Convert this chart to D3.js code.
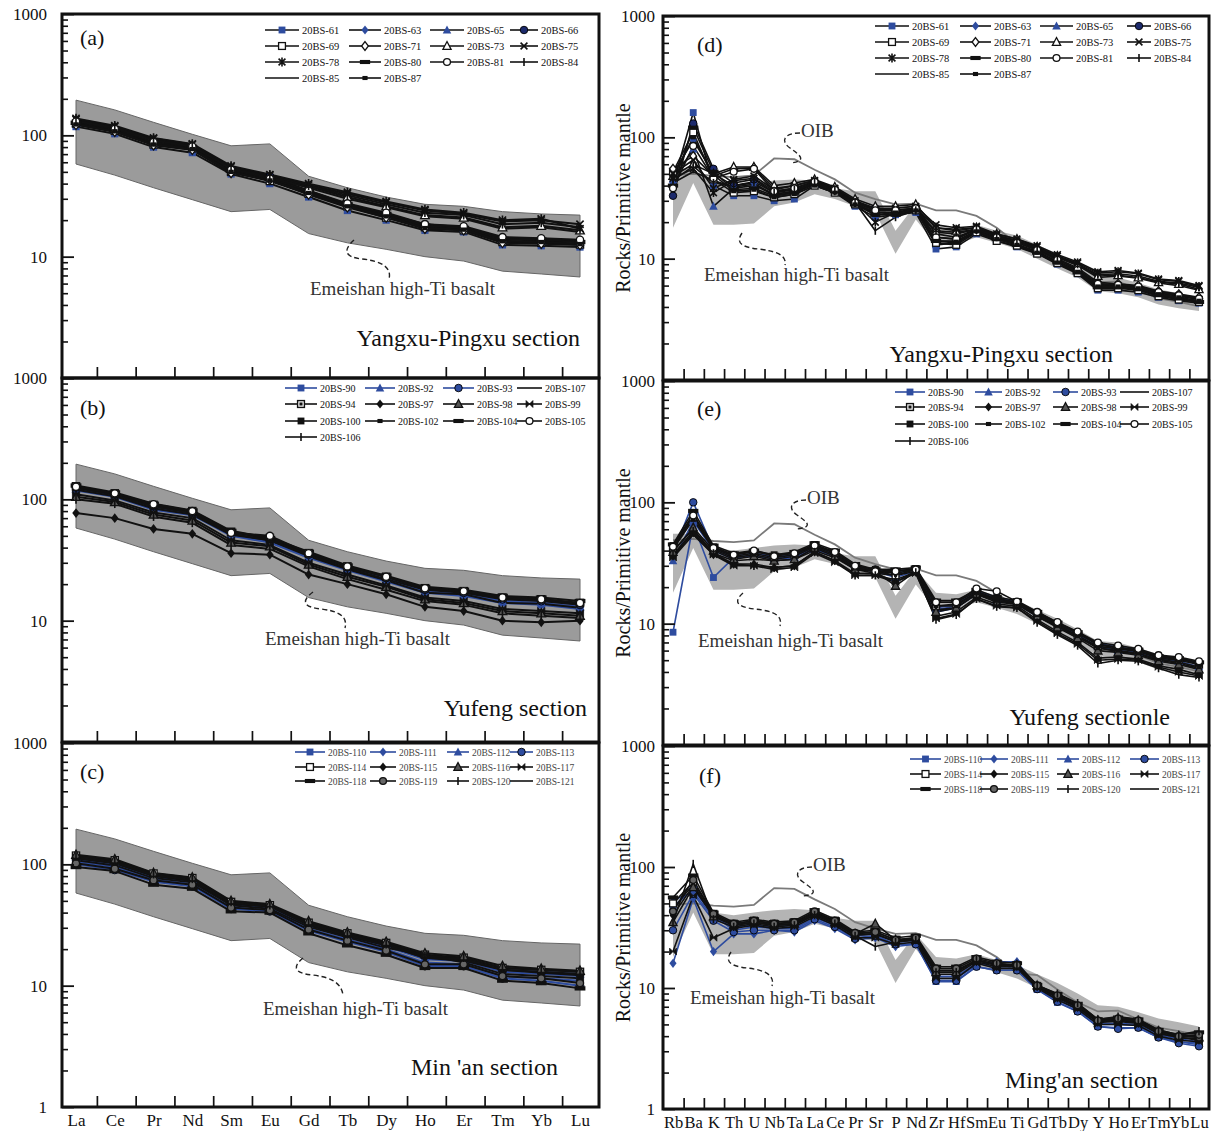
<!DOCTYPE html>
<html><head><meta charset="utf-8">
<script src="https://cdn.jsdelivr.net/npm/d3@7"></script>
<style>body{margin:0;background:#fff}svg{display:block}text{font-family:"Liberation Serif","Times New Roman",serif}</style>
</head><body><svg id="c" width="1215" height="1131"></svg>
<script>
// ---------------- DATA ----------------
const REE = ["La","Ce","Pr","Nd","Sm","Eu","Gd","Tb","Dy","Ho","Er","Tm","Yb","Lu"];
const SPIDER = ["Rb","Ba","K","Th","U","Nb","Ta","La","Ce","Pr","Sr","P","Nd","Zr","Hf","Sm","Eu","Ti","Gd","Tb","Dy","Y","Ho","Er","Tm","Yb","Lu"];
const yMajor = [1,10,100,1000];

const samplesA = ["20BS-61","20BS-63","20BS-65","20BS-66","20BS-69","20BS-71","20BS-73","20BS-75","20BS-78","20BS-80","20BS-81","20BS-84","20BS-85","20BS-87"];
const samplesB = ["20BS-90","20BS-92","20BS-93","20BS-107","20BS-94","20BS-97","20BS-98","20BS-99","20BS-100","20BS-102","20BS-104","20BS-105","20BS-106"];
const samplesC = ["20BS-110","20BS-111","20BS-112","20BS-113","20BS-114","20BS-115","20BS-116","20BS-117","20BS-118","20BS-119","20BS-120","20BS-121"];

// Chondrite-normalised REE (a, b, c)
const reeA = [
 [118,103,80,72,48,40,31,24,20,16.5,16,12.5,12.3,12],
 [124,108,84,76,50,43,33,26,21.5,17.5,16.8,13.5,13.2,12.8],
 [126,110,85,77,51,44,34,26.5,22,18,17,14,13.5,13.2],
 [128,112,86,80,52,46,35,27,22.5,18.5,17.5,14.2,14,13.5],
 [125,109,84,78,50,42,33,26,21,17.5,16.5,13.2,13,12.6],
 [122,107,83,76,49,43,32.5,25.5,21,17,16.5,13,12.8,12.5],
 [132,116,92,82,54,46,38,31,26,22,21,17.5,18,16.5],
 [135,118,94,84,55,47,39,33,28,24,22.5,19.5,20,18.5],
 [138,120,95,85,56,47.5,40,34,28.5,24.5,23,20,20.5,17],
 [127,111,87,79,51,45,34.5,27,22.5,18,17.3,14,13.8,13.2],
 [130,113,88,81,52,44,35,27.5,23,18.5,17.8,14.5,14.2,13.8],
 [133,117,93,83,54,46,38.5,32,27,23,22,18.5,19,17.5],
 [131,115,91,81,53,45,37,30,25.5,21.5,20.5,17,17.5,16],
 [123,108,84,77,50,42.5,33.5,26,21.5,17.2,16.7,13.4,13.2,12.7]
];
const reeB = [
 [118,105,82,74,50,44,33,26,21,17,16,14,13.5,12.5],
 [122,108,85,76,52,45,34,27,22,17.5,16.5,14.5,14,13],
 [125,110,88,78,53,47,35,27.5,22.5,18,17,15,14.5,13.5],
 [120,106,84,75,51,46,34,26.5,21.5,17,16.5,14,13.8,12.8],
 [128,112,90,80,54,48,36,28,23,18.5,17.5,15.5,15,14],
 [77,70,57,52,36,35,24,20,16.5,13,12,10,9.7,10],
 [105,95,75,67,44,41,29,23,19,15,14,12,11.5,11],
 [110,98,78,70,46,42,30,24,19.5,15.5,14.5,12.5,12,11.5],
 [126,111,89,79,54,47,35.5,28,23,18.5,17.5,15.5,15,13.8],
 [124,109,87,77,52,46,35,27,22,18,17,15,14.5,13.5],
 [130,114,92,81,55,48,37,28.5,23.5,19,18,16,15.5,14.5],
 [127,112,91,80,53,50,36,28,23,18.5,17.5,15.5,15,14],
 [100,92,72,64,42,39,28,22,18,14.5,13.5,11.5,11,10.5]
];
const reeC = [
 [110,100,78,72,46,44,31,25,21,16.5,16,13,12.5,12],
 [105,95,75,69,44,42,29.5,24,20,15.5,15,12,11.5,11],
 [115,104,81,75,48,45,32,26,22,17,16.5,13.5,13,12.5],
 [100,90,72,66,43,41,28.5,23,19,14.5,14.5,11.5,11,10],
 [118,108,84,77,49,46,33,27,22.5,18,17,14,13.5,13],
 [112,102,80,73,47,45,31.5,25.5,21.5,17,16,13.5,12.8,12.2],
 [120,110,85,78,50,47,34,27.5,23,18.5,17.5,14.5,13.8,13.3],
 [108,98,77,71,46,43,30.5,25,20.5,18,15.5,12.5,12,11.5],
 [95,88,68,63,41,40,27,21.5,18,14,14,11,10.5,9.5],
 [102,92,74,68,44,42,29,23.5,19.5,15,15,12,11.5,10.5],
 [116,106,83,76,49,46,33,26.5,22,17.5,17,14,13.5,13],
 [113,103,81,74,48,45,32,26,21.5,17,16.5,13.5,13,12.5]
];
const reeEnvUpper = [195,162,128,102,82,85,46,37,31,27,26,23.5,22.5,22];
const reeEnvLower = [58,47,37,29.5,23.5,24.5,15.5,13,11.5,10,9.2,7.6,7.2,6.8];

// Primitive-mantle-normalised spidergrams (d, e, f)
const spiderD = [
 [41,160,40,33,33,30,31,40,35,27,22,23,24,12,12.5,16,14,12.5,11,9,7.5,5.5,5.5,5.3,4.8,4.5,4.3],
 [50,95,50,40,42,33,35,42,36,29,25,25,26,14,14,17,15,13,11.5,9.5,8,6,6,5.8,5.2,4.9,4.6],
 [45,80,27,38,40,34,36,41,35,28,24,24,25,13,13.5,16.5,14.5,13,11.3,9.3,7.8,5.8,5.8,5.6,5.0,4.7,4.4],
 [33,130,55,42,45,35,38,43,37,29,26,25,26,15,14.5,17.5,15,13.5,11.8,9.8,8.2,6.2,6.1,5.9,5.3,5.0,4.7],
 [52,110,45,35,36,32,34,40,35,28,24,24,25,13.5,13,16.5,14,12.8,11,9.2,7.6,5.7,5.7,5.5,4.9,4.6,4.4],
 [55,70,48,55,56,38,40,44,38,30,26,26,27,16,15,17.5,15.5,14,12,10,8.4,6.4,6.2,6.0,5.4,5.1,4.8],
 [48,60,50,57,57,40,42,45,39,31,27,27,28,18,17,18,16,14.5,12.5,10.5,9,7.2,7.3,7.0,6.4,6.2,5.6],
 [50,65,38,45,48,37,40,44,38,30,25,26,27,19,18,18.5,16,14.5,12.8,10.8,9.4,7.8,8.0,7.6,6.8,6.6,6.0],
 [46,55,35,44,46,36,38,43,37,29,20,24,26,18,17.5,18,15.5,14,12.5,10.5,9.2,7.6,7.8,7.5,6.7,6.5,5.9],
 [40,120,52,37,38,33,35,41,36,28,23,23,25,14,13.5,17,14.5,13,11.2,9.3,7.7,5.8,5.8,5.6,5.0,4.7,4.4],
 [38,85,46,52,55,36,38,43,37,29,25,25,26,15,14.5,17.5,15,13.5,11.8,9.8,8.1,6.2,6.1,5.9,5.3,5.0,4.7],
 [44,58,42,40,43,35,37,42,36,29,17,22,25,17,16.5,17.5,15.5,14,12.3,10.3,9,7.4,7.5,7.2,6.5,6.3,5.8],
 [42,52,44,39,41,34,36,42,36,28.5,24,24,25,16.5,16,17.5,15,14,12.2,10.2,8.8,7.0,7.2,6.9,6.3,6.0,5.5],
 [47,100,49,36,37,32,34,40,35,28,23,24,25,14,13.8,16.8,14.5,13,11.2,9.3,7.8,5.9,5.9,5.7,5.1,4.8,4.5]
];
const spiderE = [
 [8.5,66,24,35,36,35,36,42,37,29,27,27,28,13,14,18,16,15,12,9.8,8.2,6.8,6.3,6.0,5.3,5.2,4.6],
 [33,70,40,34,37,34,35,41,36,28,27,24,27,12.5,13.5,17.5,15.5,14.5,11.5,9.5,8.0,6.5,6.0,5.8,5.1,4.9,4.4],
 [38,100,41,36,38,36,37,43,38,29.5,28,26,28,13.5,14.5,18.5,16.5,15,12.2,10,8.3,6.9,6.4,6.1,5.4,5.2,4.7],
 [40,60,38,33,34,33,34,40,35,28,26,25,27,13,13.5,17.5,15.5,14.5,11.5,9.5,7.8,6.3,5.9,5.6,5.0,4.7,4.3],
 [42,75,42,36,38,35,37,44,38,29,27,25,28,14,14.5,18,16,15,12,9.8,8.0,6.5,6.2,5.9,5.2,5.0,4.6],
 [36,56,37,31,31,29,30,39,33,26,26,22,27,11.5,12.5,16.5,14.5,14,10.8,8.6,7.0,5.2,5.3,5.1,4.5,4.2,3.8],
 [39,62,40,34,36,33,34,42,36,28,27,20.5,27,12.5,13.5,17.5,15,14.5,11.5,9.3,7.6,6.0,5.8,5.5,4.9,4.6,4.2],
 [35,54,37,30,30,28,29,38,32,25,25,22,26,11,12,16,14,13.5,10.5,8.3,6.8,5.0,5.1,5.0,4.4,4.0,3.7],
 [44,80,43,37,39,37,38,45,39,30,28,27,28.5,15,15,18.5,16,15,12.3,10,8.3,6.7,6.3,6.0,5.3,5.1,4.7],
 [41,72,41,35,37,34,36,43,37,28.5,27,26,28,14,14,18,15.5,14.8,11.8,9.6,7.9,6.3,6.0,5.7,5.1,4.8,4.4],
 [45,85,44,38,40,37,39,46,40,31,28,28,29,15.5,15.5,19,16.5,15.5,12.5,10.2,8.5,6.8,6.4,6.1,5.4,5.2,4.8],
 [43,78,42,37,40,36,38,44,39,30,27,27,28,15,15,19.5,18.5,15.2,12.5,10.3,8.6,7.0,6.6,6.2,5.5,5.3,4.9],
 [37,58,38,31,30,29,30,39,33,25,25,23,26.5,10.8,11.8,16,13.8,13.5,10.2,8.1,6.6,4.7,5.0,4.9,4.3,3.8,3.6]
];
const spiderF = [
 [47,65,40,30,32,31,31,38,33,26,27,23,23,11.3,11.3,15,14,14,9.7,7.6,6.4,4.8,4.7,4.7,3.9,3.6,3.4],
 [16,55,20,28,28,30,29,36,31,25,26,22,23,12,12,15.5,16.5,16.5,10,8.0,6.6,5.0,5.0,4.9,4.0,3.6,3.5],
 [53,62,38,32,33,32,33,40,34,27,28,24,24,12.5,12.5,16,15,15,10.2,8.2,6.8,5.1,5.1,5.0,4.1,3.8,3.6],
 [30,60,36,29,30,30,30,37,32,25.5,27,23,23,11.5,11.5,15,14,14,9.8,7.7,6.4,4.8,4.6,4.7,3.9,3.5,3.3],
 [50,75,41,34,36,34,35,42,36,28,29,25,26,14,14,17,15.5,15.5,10.4,8.5,7.0,5.3,5.4,5.2,4.2,3.9,3.8],
 [40,70,40,33,35,33,34,41,35,27.5,28,24,25,13,13,16.5,15,15,10.2,8.3,6.9,5.2,5.3,5.1,4.2,3.9,3.7],
 [35,68,39,33,35,33,34,41,35,28,34,25,25,13.5,13.5,17,15.5,15.5,10.5,8.6,7.1,5.4,5.5,5.3,4.4,4.0,3.9],
 [20,58,26,31,33,31,32,39,33,26,26,23,24,12,12,16,14.5,14.5,10,8.0,6.7,5.0,5.0,4.9,4.0,3.7,3.6],
 [56,85,42,35,37,35,36,44,37,29,30,26,27,15,15,18,16.5,16,10.6,8.9,7.4,5.5,5.7,5.5,4.5,4.1,4.3],
 [43,78,41,34,36,34,35,43,36,28.5,29,25,26,14.5,14.5,17.5,16,15.5,10.5,8.7,7.2,5.4,5.6,5.4,4.4,4.0,4.1],
 [35,106,37,32,34,32,33,40,34,27,22,24,25,13.5,13.5,17,15.5,15.5,10.5,9.0,7.5,5.5,5.8,5.5,4.5,4.1,4.4],
 [45,72,39,33,35,33,34,41,35,27.5,28,24.5,25.5,13.5,13.5,17,15.5,15.3,10.4,8.6,7.2,5.3,5.5,5.3,4.3,4.0,4.0]
];
const oib = [48.8,50,48,47,48.6,67,66,54,45,35,31,28,28.4,25,25,22.5,18,13.2,12.8,9.7,7.6,6.4,6.5,5.5,4.7,4.4,4.05];
const spEnvUpper = [55,55,42,40,42,44,45,44,38,36,36,17,28,18,17.5,19,17,15.5,13,11,9,7.2,7,6.3,5.6,5.2,4.8];
const spEnvLower = [18,42,19,19,19.5,27,29,34,31,27,24,11,21,13,13,15,13.5,12,10,8.3,7,5.4,5.2,4.8,4.2,3.9,3.7];

// ---------------- STYLES ----------------
const BLUE = "#2e4c9f", NAVY = "#1c2a6c";
const styleOf = {
 "20BS-61":{m:"square",c:BLUE},"20BS-63":{m:"diamond",c:BLUE},"20BS-65":{m:"triangle",c:BLUE},"20BS-66":{m:"circle",c:NAVY},
 "20BS-69":{m:"osquare"},"20BS-71":{m:"odiamond"},"20BS-73":{m:"otriangle"},"20BS-75":{m:"x"},
 "20BS-78":{m:"star"},"20BS-80":{m:"bar"},"20BS-81":{m:"ocircle"},"20BS-84":{m:"plus"},"20BS-85":{m:"none"},"20BS-87":{m:"smallsq"},
 "20BS-90":{m:"square",c:BLUE,lc:BLUE},"20BS-92":{m:"triangle",c:BLUE,lc:BLUE},"20BS-93":{m:"circle",c:BLUE,lc:BLUE},"20BS-107":{m:"none"},
 "20BS-94":{m:"dsquare"},"20BS-97":{m:"diamond",c:"#111"},"20BS-98":{m:"dtriangle"},"20BS-99":{m:"bowtie"},
 "20BS-100":{m:"square",c:"#111"},"20BS-102":{m:"smallsq"},"20BS-104":{m:"bar"},"20BS-105":{m:"ocircle"},"20BS-106":{m:"plus"},
 "20BS-110":{m:"square",c:BLUE,lc:BLUE},"20BS-111":{m:"diamond",c:BLUE,lc:BLUE},"20BS-112":{m:"triangle",c:BLUE,lc:BLUE},"20BS-113":{m:"circle",c:BLUE,lc:BLUE},
 "20BS-114":{m:"osquare"},"20BS-115":{m:"diamond",c:"#111"},"20BS-116":{m:"dtriangle"},"20BS-117":{m:"bowtie"},
 "20BS-118":{m:"bar"},"20BS-119":{m:"dcircle"},"20BS-120":{m:"plus"},"20BS-121":{m:"none"}
};

function drawMarker(g, kind, x, y, color, k){
  k = k||1; const s = 3.6*k; color = color||"#111";
  const P = (d)=>g.append("path").attr("d",d);
  switch(kind){
    case "square": g.append("rect").attr("x",x-s).attr("y",y-s).attr("width",2*s).attr("height",2*s).attr("fill",color); break;
    case "diamond": P(`M${x},${y-s*1.35}L${x+s*1.05},${y}L${x},${y+s*1.35}L${x-s*1.05},${y}Z`).attr("fill",color); break;
    case "triangle": P(`M${x},${y-s*1.35}L${x+s*1.25},${y+s}L${x-s*1.25},${y+s}Z`).attr("fill",color); break;
    case "circle": g.append("circle").attr("cx",x).attr("cy",y).attr("r",s*1.1).attr("fill",color).attr("stroke","#000").attr("stroke-width",0.9); break;
    case "osquare": g.append("rect").attr("x",x-s).attr("y",y-s).attr("width",2*s).attr("height",2*s).attr("fill","#fff").attr("stroke","#111").attr("stroke-width",1.3); break;
    case "dsquare": g.append("rect").attr("x",x-s).attr("y",y-s).attr("width",2*s).attr("height",2*s).attr("fill","#fff").attr("stroke","#111").attr("stroke-width",1.4);
      g.append("rect").attr("x",x-s*0.45).attr("y",y-s*0.45).attr("width",s*0.9).attr("height",s*0.9).attr("fill","#111"); break;
    case "odiamond": P(`M${x},${y-s*1.3}L${x+s},${y}L${x},${y+s*1.3}L${x-s},${y}Z`).attr("fill","#fff").attr("stroke","#111").attr("stroke-width",1.3); break;
    case "otriangle": P(`M${x},${y-s*1.3}L${x+s*1.2},${y+s}L${x-s*1.2},${y+s}Z`).attr("fill","#fff").attr("stroke","#111").attr("stroke-width",1.3); break;
    case "dtriangle": P(`M${x},${y-s*1.3}L${x+s*1.2},${y+s}L${x-s*1.2},${y+s}Z`).attr("fill","#555").attr("stroke","#111").attr("stroke-width",1.3); break;
    case "ocircle": g.append("circle").attr("cx",x).attr("cy",y).attr("r",s).attr("fill","#fff").attr("stroke","#111").attr("stroke-width",1.3); break;
    case "dcircle": g.append("circle").attr("cx",x).attr("cy",y).attr("r",s).attr("fill","#666").attr("stroke","#111").attr("stroke-width",1.4); break;
    case "x": P(`M${x-s},${y-s}L${x+s},${y+s}M${x-s},${y+s}L${x+s},${y-s}`).attr("stroke","#111").attr("stroke-width",1.6).attr("fill","none"); break;
    case "star": P(`M${x-s},${y-s}L${x+s},${y+s}M${x-s},${y+s}L${x+s},${y-s}M${x},${y-s*1.3}L${x},${y+s*1.3}`).attr("stroke","#111").attr("stroke-width",1.6).attr("fill","none"); break;
    case "bar": g.append("rect").attr("x",x-s*1.5).attr("y",y-s*0.6).attr("width",s*3).attr("height",s*1.2).attr("fill","#111"); break;
    case "smallsq": g.append("rect").attr("x",x-s*0.75).attr("y",y-s*0.6).attr("width",s*1.5).attr("height",s*1.2).attr("fill","#111"); break;
    case "plus": P(`M${x},${y-s*1.2}L${x},${y+s*1.2}`).attr("stroke","#111").attr("stroke-width",1.6); break;
    case "bowtie": P(`M${x-s},${y-s}L${x},${y}L${x-s},${y+s}ZM${x+s},${y-s}L${x},${y}L${x+s},${y+s}Z`).attr("fill","#111").attr("stroke","#111").attr("stroke-width",0.8); break;
    default: break;
  }
}

// ---------------- LAYOUT ----------------
const svg = d3.select("#c");
const colL = {x0:62, x1:599, r:[76,580], cats:REE, pad:15};
const colR = {x0:663, x1:1209, r:[673,1199], cats:SPIDER, pad:8};

const panels = [
 {kind:"ree", col:colL, top:14, bot:378, names:samplesA, rows:reeA, one:false, tag:"(a)", tagXY:[80,45],
  title:"Yangxu-Pingxu section", titleXY:[580,346], leg:{cols:[[265,302],[349,384],[430,467],[510,541]], rows:[30,46,62,78], fs:10.5, fill:"#111"},
  ann:{xy:[310,295], d:"M354,240 C343,250 344,257 362,259 C381,261 392,267 389,279"}},
 {kind:"ree", col:colL, top:378, bot:742, names:samplesB, rows:reeB, one:false, tag:"(b)", tagXY:[80,415],
  title:"Yufeng section", titleXY:[587,716], leg:{cols:[[285,320],[365,398],[443,477],[517,545]], rows:[388,404,421,437], fs:10, fill:"#111"},
  ann:{xy:[265,645], d:"M313,592 C301,601 303,607 321,609 C338,611 348,616 345,628"}},
 {kind:"ree", col:colL, top:743, bot:1107, names:samplesC, rows:reeC, one:true, tag:"(c)", tagXY:[80,779],
  title:"Min 'an section", titleXY:[558,1075], leg:{cols:[[295,328],[370,399],[447,472],[510,536]], rows:[752,767,781], fs:9.5, fill:"#444"},
  ann:{xy:[263,1015], d:"M303,958 C292,967 294,973 312,975 C330,977 341,982 343,995"}},
 {kind:"sp", col:colR, top:16, bot:380, names:samplesA, rows:spiderD, one:false, tag:"(d)", tagXY:[697,52],
  title:"Yangxu-Pingxu section", titleXY:[1113,362], leg:{cols:[[875,912],[960,994],[1040,1076],[1127,1154]], rows:[26,42,58,74], fs:10.5, fill:"#111"},
  ann:{xy:[704,281], d:"M742,233 C736,242 740,247 758,249 C776,251 787,255 785,265"},
  oib:{xy:[801,137], d:"M800,133 C784,133 780,141 790,148 C800,155 808,161 790,163"}},
 {kind:"sp", col:colR, top:381, bot:745, names:samplesB, rows:spiderE, one:false, tag:"(e)", tagXY:[697,416],
  title:"Yufeng sectionle", titleXY:[1170,725], leg:{cols:[[895,928],[975,1005],[1053,1081],[1120,1152]], rows:[392,407,424,441], fs:10, fill:"#111"},
  ann:{xy:[698,647], d:"M743,593 C733,602 737,607 755,609 C773,611 783,615 780,626"},
  oib:{xy:[807,504], d:"M806,500 C791,500 787,508 797,515 C807,522 814,527 797,529"}},
 {kind:"sp", col:colR, top:746, bot:1109, names:samplesC, rows:spiderF, one:true, tag:"(f)", tagXY:[699,783],
  title:"Ming'an section", titleXY:[1158,1088], leg:{cols:[[910,944],[980,1011],[1057,1082],[1130,1162]], rows:[759,774,789], fs:9.5, fill:"#444"},
  ann:{xy:[690,1004], d:"M731,952 C725,961 729,966 747,968 C765,970 775,975 772,986"},
  oib:{xy:[813,871], d:"M812,867 C797,867 793,875 803,882 C813,889 820,894 803,896"}}
];

panels.forEach(p => {
  const col = p.col;
  const g = svg.append("g");
  const x = d3.scalePoint().domain(col.cats).range(col.r);
  const y = d3.scaleLog().domain([1,1000]).range([p.bot, p.top]);

  // envelope
  const up = p.kind==="ree" ? reeEnvUpper : spEnvUpper;
  const lo = p.kind==="ree" ? reeEnvLower : spEnvLower;
  const area = d3.area().x((d,i)=>x(col.cats[i])).y0((d,i)=>y(lo[i])).y1(d=>y(d));
  g.append("path").attr("d", area(up))
    .attr("fill", p.kind==="ree" ? "#9b9b9b" : "#b4b4b4")
    .attr("stroke", p.kind==="ree" ? "#666" : "none").attr("stroke-width",1);

  const line = d3.line().x((d,i)=>x(col.cats[i])).y(d=>y(d));
  if (p.kind==="sp") {
    g.append("path").attr("d", line(oib)).attr("fill","none").attr("stroke","#7a7a7a").attr("stroke-width",1.8);
  }

  // sample lines
  p.names.forEach((nm, si) => {
    const st = styleOf[nm];
    g.append("path").attr("d", line(p.rows[si])).attr("fill","none")
      .attr("stroke", st.lc || "#111").attr("stroke-width", p.kind==="ree" ? 2 : 1.6).attr("stroke-linejoin","round");
  });
  p.names.forEach((nm, si) => {
    const st = styleOf[nm];
    p.rows[si].forEach((v,i) => drawMarker(g, st.m, x(col.cats[i]), y(v), st.c, p.kind==="ree"?1:0.95));
  });

  // axes: minor & major ticks inside left frame
  const minor = [];
  [1,10,100].forEach(b => { for (let k=2;k<=9;k++) minor.push(b*k); });
  g.append("g").attr("transform",`translate(${col.x0},0)`)
    .call(d3.axisRight(y).tickValues(minor).tickSize(6).tickFormat(""))
    .call(a=>a.select(".domain").remove())
    .selectAll("line").attr("stroke","#111").attr("stroke-width",1.6);
  g.append("g").attr("transform",`translate(${col.x0},0)`)
    .call(d3.axisRight(y).tickValues(yMajor).tickSize(12).tickFormat(""))
    .call(a=>a.select(".domain").remove())
    .selectAll("line").attr("stroke","#111").attr("stroke-width",1.8);
  const yl = g.append("g").attr("transform",`translate(${col.x0},0)`)
    .call(d3.axisLeft(y).tickValues(p.one ? yMajor : yMajor.slice(1)).tickFormat(d3.format("d")).tickSize(0).tickPadding(col.pad));
  yl.select(".domain").remove();
  yl.attr("font-family",'"Liberation Serif",serif').attr("font-size",17);
  yl.selectAll("text").attr("fill","#111");

  // bottom ticks between categories
  const mids = col.cats.slice(1).map((c,i)=> (x(c)+x(col.cats[i]))/2 + (p.kind==="ree"?2:1));
  g.selectAll(null).data(mids).enter().append("line")
    .attr("x1",d=>d).attr("x2",d=>d).attr("y1",p.bot).attr("y2",p.bot-11)
    .attr("stroke","#111").attr("stroke-width",1.7);

  if (p.one) {
    const xl = g.append("g").attr("transform",`translate(0,${p.bot+2})`)
      .call(d3.axisBottom(x).tickSize(0).tickPadding(5));
    xl.select(".domain").remove();
    xl.attr("font-family",'"Liberation Serif",serif').attr("font-size", p.kind==="ree"?17:16.5);
    xl.selectAll("text").attr("fill","#111");
  }

  // frame
  g.append("rect").attr("x",col.x0).attr("y",p.top).attr("width",col.x1-col.x0).attr("height",p.bot-p.top)
    .attr("fill","none").attr("stroke","#111").attr("stroke-width",3);

  // labels
  g.append("text").attr("x",p.tagXY[0]).attr("y",p.tagXY[1]).attr("font-size",22).attr("fill","#111").text(p.tag);
  g.append("text").attr("x",p.titleXY[0]).attr("y",p.titleXY[1]).attr("text-anchor","end").attr("font-size",24).attr("fill","#111").text(p.title);

  // annotations
  g.append("path").attr("d",p.ann.d).attr("fill","none").attr("stroke","#222").attr("stroke-width",1.4).attr("stroke-dasharray","5,3");
  g.append("text").attr("x",p.ann.xy[0]).attr("y",p.ann.xy[1]).attr("font-size",19).attr("fill","#333").text("Emeishan high-Ti basalt");
  if (p.oib) {
    g.append("path").attr("d",p.oib.d).attr("fill","none").attr("stroke","#222").attr("stroke-width",1.4).attr("stroke-dasharray","5,3");
    g.append("text").attr("x",p.oib.xy[0]).attr("y",p.oib.xy[1]).attr("font-size",19).attr("fill","#333").text("OIB");
  }

  // y title on spider panels
  if (p.kind==="sp") {
    const cy = (p.top+p.bot)/2;
    g.append("text").attr("transform",`translate(623,${cy}) rotate(-90)`).attr("text-anchor","middle")
      .attr("dy","0.35em").attr("font-size",20).attr("fill","#111").text("Rocks/Primitive mantle");
  }

  // legend
  const L = p.leg;
  p.names.forEach((nm, i) => {
    const c = i % 4, r = Math.floor(i / 4);
    const [lx, tx] = L.cols[c]; const ly = L.rows[r];
    const st = styleOf[nm];
    const lg = g.append("g");
    const lend = tx - 3;
    lg.append("line").attr("x1",lx).attr("x2",lend).attr("y1",ly).attr("y2",ly)
      .attr("stroke", st.lc || "#111").attr("stroke-width",1.6);
    drawMarker(lg, st.m, (lx+lend)/2, ly, st.c, 0.95);
    lg.append("text").attr("x",tx).attr("y",ly+3.5).attr("font-size",L.fs).attr("fill",L.fill).text(nm);
  });
});
</script>
</body></html>
